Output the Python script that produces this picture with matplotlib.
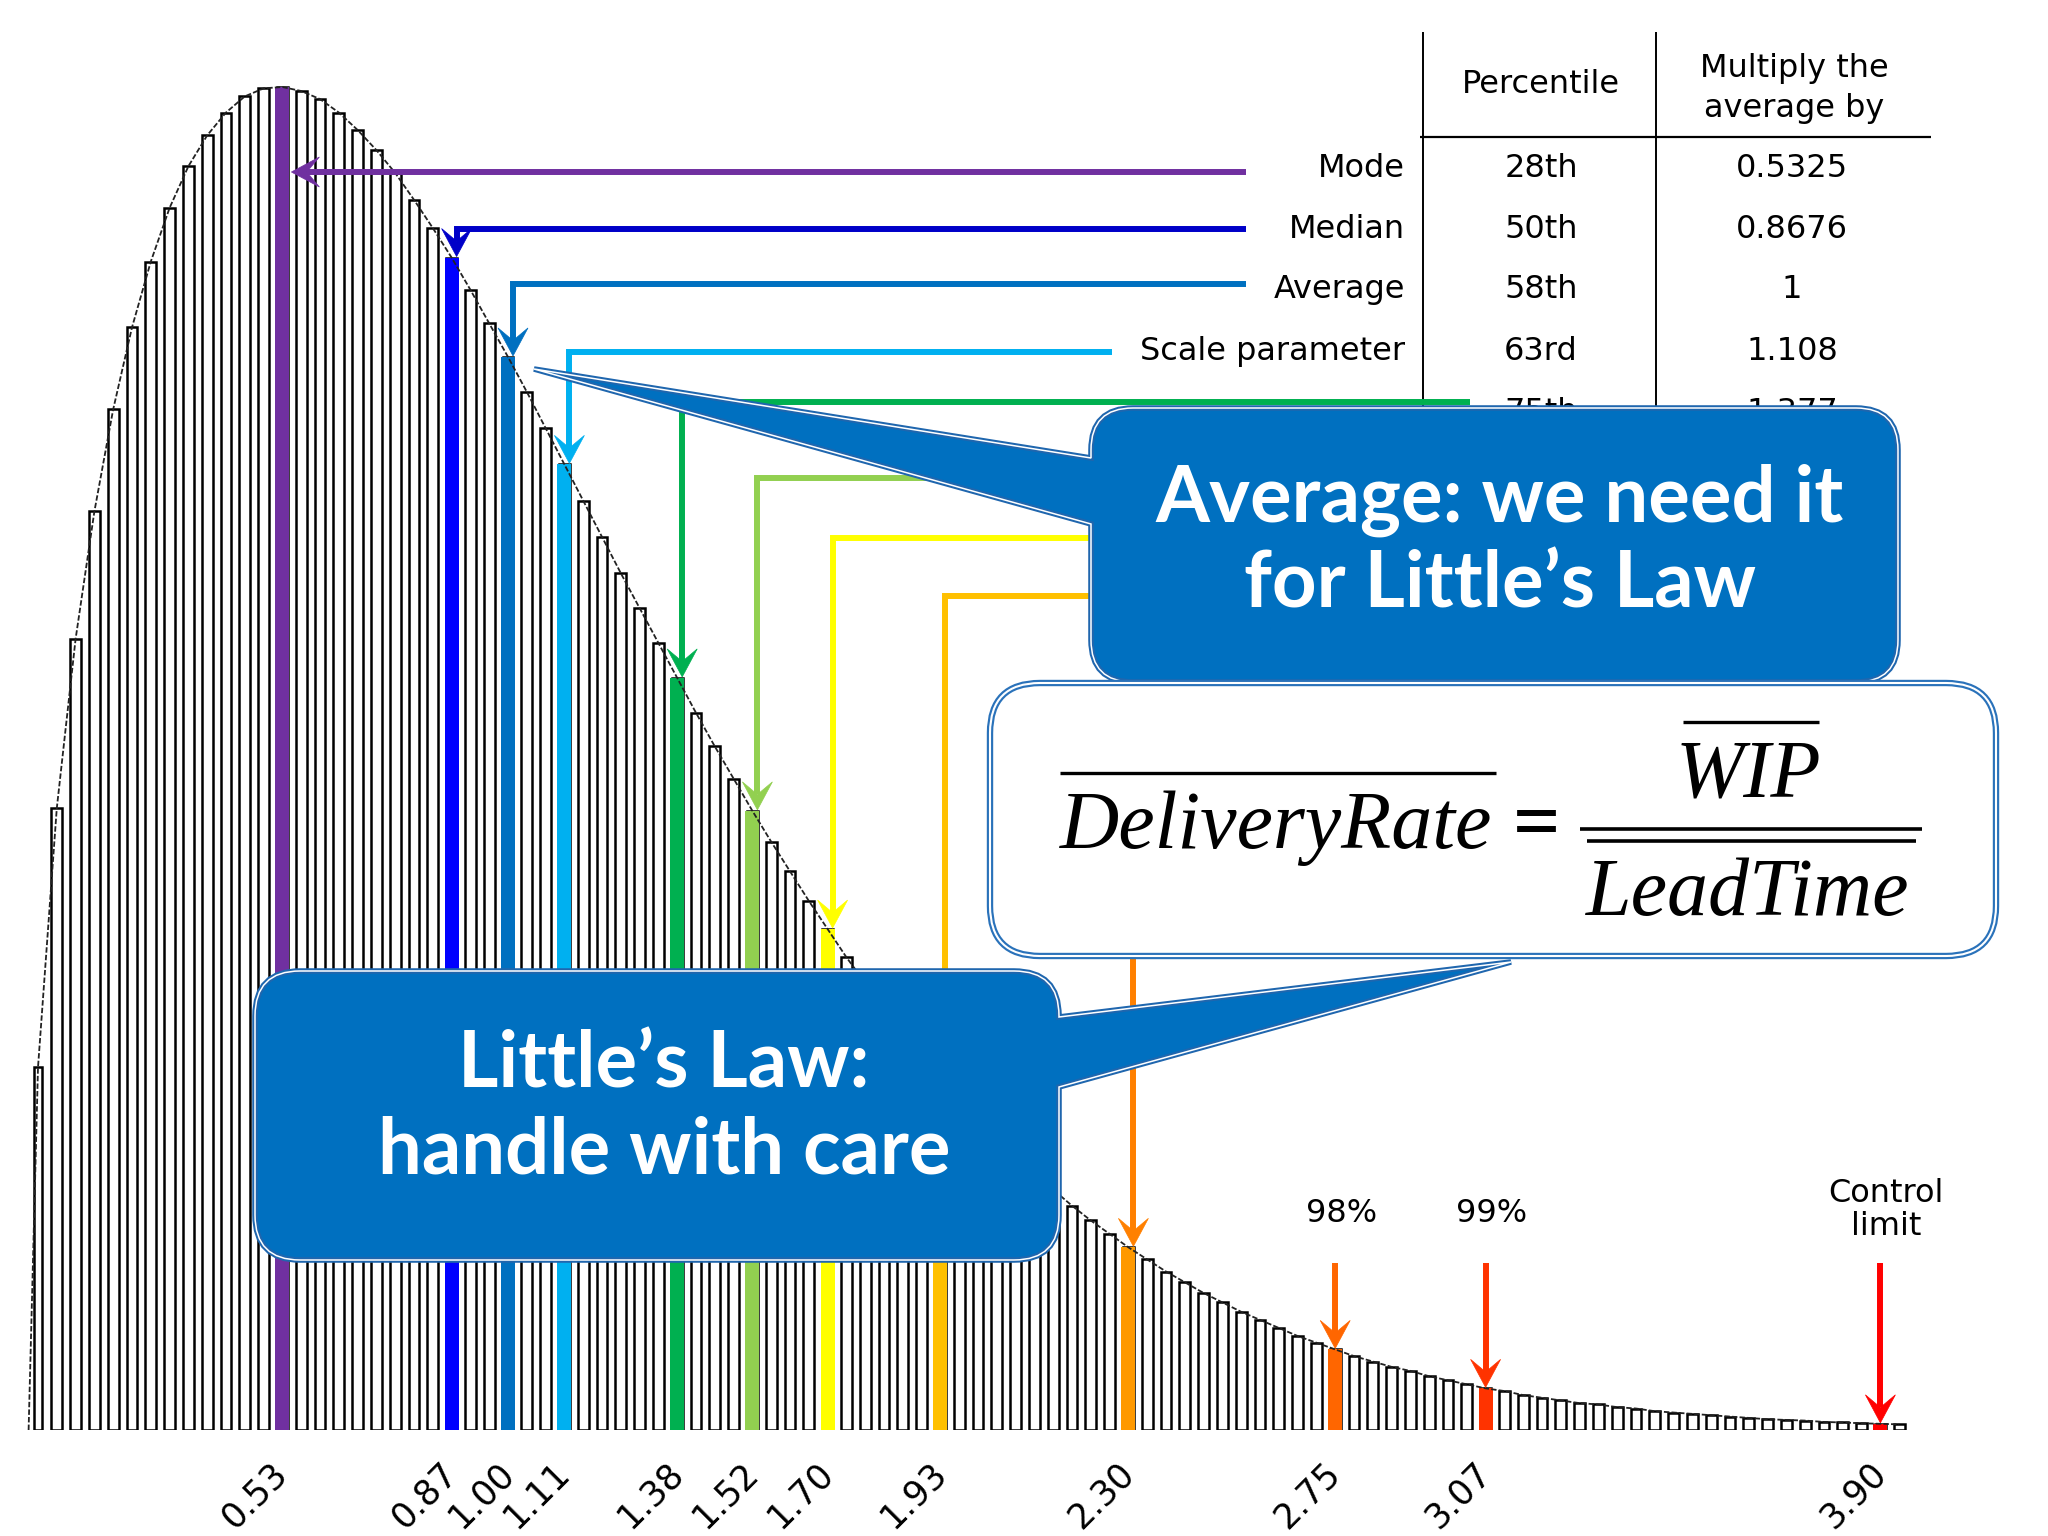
import matplotlib
matplotlib.use('Agg')
import matplotlib.pyplot as plt
import matplotlib.transforms as mtransforms
from matplotlib.path import Path
from matplotlib.patches import PathPatch, Polygon
from matplotlib.lines import Line2D

W, H = 2048, 1536

# histogram of lead times (relative to the average), one bar per 0.04
bin_width = 0.04
heights = [0.270, 0.463, 0.589, 0.684, 0.760, 0.821, 0.870, 0.910, 0.941, 0.964,
           0.981, 0.993, 0.999, 1.000, 0.997, 0.991, 0.981, 0.968, 0.953, 0.936,
           0.916, 0.895, 0.873, 0.849, 0.824, 0.799, 0.773, 0.746, 0.719, 0.692,
           0.665, 0.638, 0.612, 0.586, 0.560, 0.534, 0.509, 0.485, 0.461, 0.438,
           0.416, 0.394, 0.373, 0.352, 0.333, 0.314, 0.296, 0.279, 0.263, 0.247,
           0.232, 0.218, 0.204, 0.191, 0.179, 0.167, 0.156, 0.146, 0.136, 0.127,
           0.118, 0.110, 0.102, 0.095, 0.088, 0.082, 0.076, 0.070, 0.065, 0.060,
           0.055, 0.051, 0.047, 0.044, 0.040, 0.037, 0.034, 0.031, 0.029, 0.026,
           0.024, 0.022, 0.020, 0.019, 0.017, 0.016, 0.014, 0.013, 0.012, 0.011,
           0.010, 0.009, 0.008, 0.0075, 0.007, 0.006, 0.0056, 0.005, 0.0046, 0.0042]
curve_start = (-0.02, 0.0)

# highlighted bins and their labels
marker_bins = [13, 22, 25, 28, 34, 38, 42, 48, 58, 69, 77, 98]
marker_labels = ['0.53', '0.87', '1.00', '1.11', '1.38', '1.52', '1.70', '1.93',
                 '2.30', '2.75', '3.07', '3.90']
bar_colors = ['#7030A0', '#0000FF', '#0070C0', '#00B0F0', '#00B050', '#92D050',
              '#FFFF00', '#FFC000', '#FF9900', '#FF6600', '#FF3300', '#FF0000']
line_colors = ['#7030A0', '#0000C8', '#0070C0', '#00B0F0', '#00B050', '#92D050',
               '#FFFF00', '#FFC000', '#FF8000', '#FF6600', '#FF3300', '#FF0000']

# table
row_names = ['Mode', 'Median', 'Average', 'Scale parameter', '']
percentiles = ['28th', '50th', '58th', '63rd', '75th']
multipliers = ['0.5325', '0.8676', '1', '1.108', '1.377']
top_labels = ['98%', '99%', 'Control\nlimit']

# layout (pixels from top-left)
line_y = [172, 229, 284, 352, 402, 478, 538, 596, 655, 1263, 1263, 1263]
line_x0 = [1246, 1246, 1246, 1112, 1470, 1150, 1150, 1150, 1200, None, None, None]
arrow_dx = [0, 5, 5, 5, 5, 5, 5, 5, 5, 0, 0, 0]

fig = plt.figure(figsize=(W / 100, H / 100), dpi=100)
ax = fig.add_axes([0, (H - 1430) / H, 1, 1430 / H])
ax.set_xlim(-38 / 470, (W - 38) / 470)
ax.set_ylim(0, 1430 / 1343)
ax.set_autoscale_on(False)
ax.set_frame_on(False)
ax.set_yticks([])

pix = mtransforms.Affine2D().scale(1 / W, -1 / H).translate(0, 1) + fig.transFigure
TXT = ['DejaVu Sans']
CALL = ['Lato', 'DejaVu Sans']


def to_pix(xd, yd):
    X, Y = ax.transData.transform((xd, yd))
    return X, H - Y


def pline(xs, ys, color, lw, z):
    ax.add_line(Line2D(xs, ys, color=color, lw=lw, transform=pix, zorder=z,
                       clip_on=False, solid_capstyle='butt', solid_joinstyle='miter'))


def head(x, y, direction, color, z, L=28, Wd=30):
    if direction == 'down':
        pts = [(x, y), (x - Wd / 2, y - L), (x, y - 0.55 * L), (x + Wd / 2, y - L)]
    else:
        pts = [(x, y), (x + L, y - Wd / 2), (x + 0.55 * L, y), (x + L, y + Wd / 2)]
    ax.add_patch(Polygon(pts, closed=True, fc=color, ec=color, lw=0.5,
                         transform=pix, zorder=z, clip_on=False))
    return 0.55 * L


def bubble(x0, y0, x1, y1, r, side=None, t0=None, t1=None, tip=None):
    M, L, C, Z = Path.MOVETO, Path.LINETO, Path.CURVE3, Path.CLOSEPOLY
    v = [(x0 + r, y0), (x1 - r, y0), (x1, y0), (x1, y0 + r)]
    c = [M, L, C, C]
    if side == 'right':
        v += [(x1, t0), tip, (x1, t1)]
        c += [L, L, L]
    v += [(x1, y1 - r), (x1, y1), (x1 - r, y1), (x0 + r, y1), (x0, y1), (x0, y1 - r)]
    c += [L, C, C, L, C, C]
    if side == 'left':
        v += [(x0, t1), tip, (x0, t0)]
        c += [L, L, L]
    v += [(x0, y0 + r), (x0, y0), (x0 + r, y0), (x0 + r, y0)]
    c += [L, C, C, Z]
    return Path(v, c)


def draw_bubble(path, fc, ec, lw_out, lw_in, z):
    ax.add_patch(PathPatch(path, fc=fc, ec=ec, lw=lw_out, transform=pix,
                           zorder=z, clip_on=False))
    ax.add_patch(PathPatch(path, fc='none', ec='white', lw=lw_in, transform=pix,
                           zorder=z + 0.1, clip_on=False))


# bars
centers = [bin_width * i for i in range(len(heights))]
widths = [0.016 if i == 0 else 0.023 for i in range(len(heights))]
ax.bar(centers, heights, width=widths, color='white', edgecolor='black',
       linewidth=1.8, zorder=2)
for k, col in zip(marker_bins, bar_colors):
    ax.bar(centers[k], heights[k], width=0.030, color=col, edgecolor='none', zorder=2.5)

ax.plot([curve_start[0]] + centers, [curve_start[1]] + heights, color='#222222',
        lw=1.3, ls=(0, (3, 1.2)), zorder=3)

# x tick labels
ax.set_xticks([centers[k] for k in marker_bins], marker_labels)
ax.tick_params(axis='x', length=0, pad=27)
for lab in ax.get_xticklabels():
    lab.set_rotation(45)
    lab.set_ha('right')
    lab.set_va('center')
    lab.set_rotation_mode('anchor')
    lab.set_fontsize(25)
    lab.set_family(TXT)

# arrows from the table to the bars
for i, k in enumerate(marker_bins):
    col = line_colors[i]
    bx, by = to_pix(centers[k], heights[k])
    lw = 4.3
    if i == 0:
        tipx = bx + 9
        back = head(tipx, line_y[i], 'left', col, 5)
        pline([line_x0[i], tipx + back], [line_y[i], line_y[i]], col, lw, 5)
        continue
    x = bx + arrow_dx[i]
    back = head(x, by - 1, 'down', col, 5)
    if line_x0[i] is None:
        pline([x, x], [line_y[i], by - 1 - back], col, lw, 5)
    else:
        pline([line_x0[i], x, x], [line_y[i], line_y[i], by - 1 - back], col, lw, 5)

# labels above the tail arrows
for i, txt in zip([9, 10, 11], top_labels):
    bx, by = to_pix(centers[marker_bins[i]], heights[marker_bins[i]])
    ty = 1213 if i < 11 else 1210
    ax.text(bx + 6, ty, txt, transform=pix, ha='center', va='center', fontsize=23,
            family=TXT, linespacing=1.1, zorder=6)

# table
pline([1423, 1423], [32, 420], 'black', 1.4, 4)
pline([1656, 1656], [32, 420], 'black', 1.4, 4)
pline([1420, 1931], [137, 137], 'black', 1.6, 4)
ax.text(1541, 93, 'Percentile', transform=pix, ha='center', va='baseline',
        fontsize=23, family=TXT, zorder=4)
ax.text(1794, 77, 'Multiply the', transform=pix, ha='center', va='baseline',
        fontsize=23, family=TXT, zorder=4)
ax.text(1794, 117, 'average by', transform=pix, ha='center', va='baseline',
        fontsize=23, family=TXT, zorder=4)
row_base = [177, 238, 298, 360, 421]
for name, pc, mu, yb in zip(row_names, percentiles, multipliers, row_base):
    ax.text(1405, yb, name, transform=pix, ha='right', va='baseline', fontsize=23,
            family=TXT, zorder=4)
    ax.text(1541, yb, pc, transform=pix, ha='center', va='baseline', fontsize=23,
            family=TXT, zorder=4)
    ax.text(1792, yb, mu, transform=pix, ha='center', va='baseline', fontsize=23,
            family=TXT, zorder=4)

# callout: average
p1 = bubble(1091, 408, 1898, 682, 42, 'left', 458, 524, (534, 369))
draw_bubble(p1, '#0070C0', '#1F66AE', 4.0, 1.1, 10)
ax.text(1500, 522, 'Average: we need it', transform=pix, ha='center', va='baseline',
        fontsize=56, weight='bold', color='white', family=CALL, zorder=11)
ax.text(1500, 607, 'for Little\u2019s Law', transform=pix, ha='center', va='baseline',
        fontsize=56, weight='bold', color='white', family=CALL, zorder=11)

# formula box
p2 = bubble(990, 683, 1996, 956, 50)
draw_bubble(p2, 'white', '#2A72BA', 4.6, 1.5, 12)
FS = ['Liberation Serif', 'DejaVu Serif']
ax.text(1060, 848, 'DeliveryRate', transform=pix, ha='left', va='baseline',
        fontsize=59, style='italic', family=FS, zorder=13)
pline([1060, 1496], [773, 773], 'black', 2.4, 13)
ax.text(1537, 848, '=', transform=pix, ha='center', va='baseline', fontsize=60,
        weight='bold', family=FS, zorder=13)
pline([1580, 1922], [829, 829], 'black', 2.6, 13)
pline([1587, 1916], [841, 841], 'black', 2.6, 13)
ax.text(1748, 797, 'WIP', transform=pix, ha='center', va='baseline', fontsize=59,
        style='italic', family=FS, zorder=13)
pline([1683, 1819], [722, 722], 'black', 2.4, 13)
ax.text(1748, 915, 'LeadTime', transform=pix, ha='center', va='baseline',
        fontsize=59, style='italic', family=FS, zorder=13)

# callout: Little's Law
p3 = bubble(255, 971, 1059, 1260, 45, 'right', 1017, 1087, (1511, 962))
draw_bubble(p3, '#0070C0', '#1F66AE', 4.0, 1.1, 14)
ax.text(664, 1088, 'Little\u2019s Law:', transform=pix, ha='center', va='baseline',
        fontsize=56, weight='bold', color='white', family=CALL, zorder=15)
ax.text(664, 1173, 'handle with care', transform=pix, ha='center', va='baseline',
        fontsize=56, weight='bold', color='white', family=CALL, zorder=15)

fig.savefig('out.png', dpi=100)
